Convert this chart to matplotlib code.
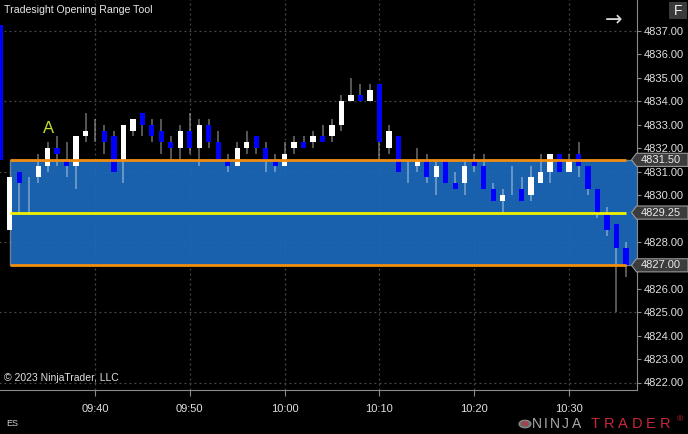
import numpy as np
import matplotlib.pyplot as plt
from matplotlib.patches import Polygon, Rectangle, Circle
from matplotlib import transforms

W, H = 688, 434

# one-minute bars, minutes after 09:30
bar_min = list(range(0, 67))
opens = [4837.25, 4828.50, 4831.00, 4830.75, 4830.75, 4831.25, 4832.00, 4831.50, 4831.25, 4832.50,
         4832.50, 4832.75, 4832.50, 4831.50, 4832.75, 4833.50, 4833.00, 4832.75, 4832.25, 4832.00,
         4832.75, 4832.00, 4833.00, 4832.25, 4831.50, 4831.25, 4832.00, 4832.50, 4832.00, 4831.50,
         4831.25, 4832.00, 4832.25, 4832.25, 4832.50, 4832.50, 4833.00, 4834.00, 4834.25, 4834.00,
         4834.75, 4832.00, 4832.50, 4831.50, 4831.25, 4831.50, 4830.75, 4831.50, 4830.50, 4830.50,
         4831.50, 4831.25, 4830.25, 4829.75, 4830.50, 4830.25, 4830.00, 4830.50, 4831.00, 4831.75,
         4831.00, 4831.75, 4831.25, 4830.25, 4829.25, 4828.75, 4827.75]
highs = [4837.25, 4830.75, 4831.00, 4830.75, 4831.75, 4832.25, 4832.50, 4832.25, 4832.50, 4833.50,
         4833.25, 4833.00, 4832.75, 4833.00, 4833.25, 4833.50, 4833.25, 4833.25, 4832.50, 4833.00,
         4833.50, 4833.25, 4833.25, 4832.75, 4831.75, 4832.25, 4832.75, 4832.50, 4832.25, 4831.75,
         4832.25, 4832.50, 4832.50, 4832.75, 4833.00, 4833.25, 4834.25, 4835.00, 4834.75, 4834.75,
         4834.75, 4833.00, 4832.50, 4831.50, 4832.00, 4831.75, 4831.50, 4831.50, 4831.00, 4831.50,
         4831.75, 4831.75, 4830.50, 4830.25, 4831.25, 4830.75, 4831.25, 4831.75, 4831.75, 4831.75,
         4831.75, 4832.25, 4831.25, 4830.25, 4829.50, 4828.75, 4828.00]
lows = [4831.50, 4828.50, 4829.25, 4829.25, 4830.50, 4831.00, 4831.25, 4830.75, 4830.25, 4832.25,
        4832.25, 4831.75, 4831.00, 4830.50, 4832.50, 4832.50, 4832.25, 4831.75, 4831.50, 4831.50,
        4831.75, 4831.25, 4832.00, 4831.50, 4831.00, 4831.25, 4831.75, 4831.75, 4831.00, 4831.00,
        4831.25, 4831.75, 4832.00, 4832.00, 4832.25, 4832.25, 4832.75, 4834.00, 4834.00, 4834.00,
        4831.50, 4831.75, 4831.00, 4830.50, 4831.00, 4830.50, 4830.00, 4830.50, 4830.25, 4830.00,
        4831.00, 4830.25, 4829.75, 4829.25, 4830.00, 4829.75, 4829.75, 4830.50, 4830.50, 4831.00,
        4831.00, 4830.75, 4830.00, 4829.00, 4828.25, 4825.00, 4826.50]
closes = [4831.50, 4830.75, 4830.50, 4830.75, 4831.25, 4832.00, 4831.75, 4831.25, 4832.50, 4832.75,
          4832.50, 4832.25, 4831.00, 4833.00, 4833.25, 4833.00, 4832.50, 4832.25, 4832.00, 4832.75,
          4832.00, 4833.00, 4832.25, 4831.50, 4831.25, 4832.00, 4832.25, 4832.00, 4831.50, 4831.25,
          4831.75, 4832.25, 4832.00, 4832.50, 4832.25, 4833.00, 4834.00, 4834.25, 4834.00, 4834.50,
          4832.25, 4832.75, 4831.00, 4831.50, 4831.50, 4830.75, 4831.25, 4830.50, 4830.25, 4831.25,
          4831.25, 4830.25, 4829.75, 4830.00, 4830.50, 4829.75, 4830.75, 4831.00, 4831.75, 4831.00,
          4831.50, 4831.25, 4830.25, 4829.25, 4828.50, 4827.75, 4827.00]

or_high = 4831.50
or_low = 4827.00
or_mid = 4829.25
or_start = 1
or_end = 66

time_ticks = [10, 20, 30, 40, 50, 60]
time_labels = ['09:40', '09:50', '10:00', '10:10', '10:20', '10:30']
price_ticks = list(range(4822, 4838))
hidden_prices = [4827, 4829]   # covered by the range flags
grid_prices = [4822, 4825, 4828, 4831, 4834, 4837]

plt.rcParams['font.family'] = ['Liberation Sans', 'DejaVu Sans']

fig = plt.figure(figsize=(W / 100, H / 100), dpi=100, facecolor='black')
ax = fig.add_axes([0, 44 / H, 637 / W, 390 / H])
ax.set_facecolor('black')
ax.set_xlim(-0.02, 67.17)
ax.set_ylim(4821.68, 4838.32)

# grid
dot = (0, (1.5, 2.5))
ax.hlines(grid_prices, -1, 70, colors='#4a4a4a', linestyles=dot, lw=0.9, zorder=1)
ax.vlines(time_ticks, 4815, 4845, colors='#4a4a4a', linestyles=dot, lw=0.9, zorder=1)

# opening range box
ax.add_patch(Rectangle((or_start, or_low), 80, or_high - or_low, facecolor='#1c6cc0',
                       alpha=0.9, edgecolor='#7a8a9a', lw=1, zorder=2))

# candles
ax.vlines(bar_min, lows, highs, colors=(1, 1, 1, 0.4), lw=1.2, zorder=3)
o = np.array(opens)
c = np.array(closes)
cols = ['white' if cc > oo else '#0000ff' for oo, cc in zip(o, c)]
ax.bar(bar_min, np.abs(c - o), bottom=np.minimum(o, c), width=0.55, color=cols, lw=0, zorder=4)

ax.hlines([or_high, or_low], or_start, or_end, colors='#f08c10', lw=2, zorder=5)
ax.hlines(or_mid, or_start, or_end, colors='#f2f200', lw=2, zorder=5)

ax.text(5.05, 4832.82, 'A', color='#c8dc28', fontsize=12, ha='center', va='center', zorder=6)

# axes styling
for s in ['left', 'top']:
    ax.spines[s].set_visible(False)
for s in ['right', 'bottom']:
    ax.spines[s].set_color('#8a8a8a')
ax.yaxis.tick_right()
ax.set_yticks(price_ticks)
ax.set_yticklabels(['' if p in hidden_prices else '%.2f' % p for p in price_ticks])
ax.set_xticks(time_ticks)
ax.set_xticklabels(time_labels)
ax.tick_params(axis='y', colors='#8a8a8a', labelcolor='#e0e0e0', labelsize=8, length=3, pad=2)
ax.tick_params(axis='x', colors='#8a8a8a', labelcolor='#e0e0e0', labelsize=8, length=4, pad=6)

# price flags
trans = transforms.blended_transform_factory(fig.transFigure, ax.transData)
h = 0.28
for p in [or_high, or_mid, or_low]:
    pts = [(631.5 / W, p), (636.5 / W, p + h), (688 / W, p + h), (688 / W, p - h), (636.5 / W, p - h)]
    fig.add_artist(Polygon(pts, closed=True, transform=trans, facecolor='#3c3c3c',
                           edgecolor='#9a9a9a', lw=0.8))
    fig.text(641 / W, p, '%.2f' % p, transform=trans, color='#eaeaea', fontsize=8, va='center')

# overlay texts
fig.text(4 / W, 1 - 10 / H, 'Tradesight Opening Range Tool', color='#e8e8e8', fontsize=7.6, va='center')
fig.text(4 / W, 1 - 378 / H, '\u00a9 2023 NinjaTrader, LLC', color='#e0e0e0', fontsize=7.5, va='center')
fig.text(614 / W, 1 - 20 / H, '\u2192', color='#d8d8d8', fontsize=15, ha='center', va='center',
         family='DejaVu Sans')
fig.add_artist(Rectangle((669 / W, 1 - 19 / H), 18 / W, 17 / H, transform=fig.transFigure,
                         facecolor='#3a3a3a', lw=0))
fig.text(678 / W, 1 - 11 / H, 'F', color='#f0f0f0', fontsize=10, ha='center', va='center')
fig.text(6 / W, 1 - 423 / H, 'ES', color='#d0d0d0', fontsize=6.5, va='center')

# logo
fig.add_artist(Circle((525 / W, 1 - 424 / H), 6 / W, transform=fig.transFigure,
                      facecolor='#6a6a6a', edgecolor='#909090', lw=0.8))
fig.text(525 / W, 1 - 424 / H, 'N', color='#c8283a', fontsize=6, ha='center', va='center',
         weight='bold')
for ch, xc in zip('NINJA', [537, 546, 555, 565, 577]):
    fig.text(xc / W, 1 - 424 / H, ch, color='#a8a8a8', fontsize=10, ha='center', va='center')
for ch, xc in zip('TRADER', [595, 609, 623, 637, 651, 665]):
    fig.text(xc / W, 1 - 424 / H, ch, color='#c8283a', fontsize=10.5, ha='center', va='center')
fig.text(680 / W, 1 - 420 / H, '\u00ae', color='#c8283a', fontsize=6, ha='center', va='center')

fig.savefig('out.png', dpi=100, facecolor='black')
